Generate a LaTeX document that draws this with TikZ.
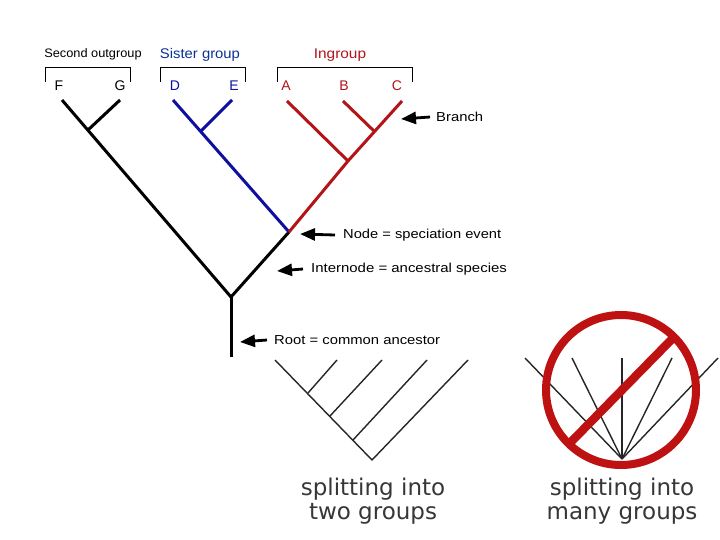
\documentclass[tikz,border=0pt]{standalone}
\usepackage{fontspec}
\usepackage{graphicx}
\setmainfont{Liberation Sans}
\newfontfamily\bigsans{DejaVu Sans}
\usetikzlibrary{arrows.meta}
\definecolor{tblue}{RGB}{15,15,160}
\definecolor{lblue}{RGB}{10,50,150}
\definecolor{tred}{RGB}{178,20,24}
\definecolor{nored}{RGB}{190,18,18}
\definecolor{txtgray}{RGB}{55,55,55}
\newcommand{\wide}[2]{\scalebox{#1}[1]{#2}}
\tikzset{
  brline/.style={line width=3pt},
  brk/.style={line width=1pt},
  grplbl/.style={inner sep=0pt, font=\fontsize{14}{16}\selectfont},
  taxon/.style={inner sep=0pt, font=\fontsize{14}{16}\selectfont},
  annot/.style={inner sep=0pt, anchor=west, font=\fontsize{13}{15}\selectfont},
  arr/.style={line width=2.8pt, -{Triangle[length=15pt,width=12pt]}},
  thinline/.style={line width=1.4pt, black!85},
  captext/.style={inner sep=0pt, align=center, text=txtgray, font=\bigsans\fontsize{23}{24}\selectfont}
}
\begin{document}
\begin{tikzpicture}[x=1pt,y=-1pt]
\useasboundingbox[fill=white] (0,0) rectangle (720,540);
% group labels
\node[grplbl, font=\fontsize{12.3}{14}\selectfont] (lso) at (93,54) {\wide{1.04}{Second outgroup}};
\node[grplbl, text=lblue] (lsi) at (200,55) {\wide{1.06}{Sister group}};
\node[grplbl, text=tred] (lin) at (340,55) {\wide{1.1}{Ingroup}};
% brackets
\draw[brk] (45,82) -- (45,68) -- (130,68) -- (130,82);
\draw[brk] (160,82) -- (160,68) -- (245,68) -- (245,82);
\draw[brk] (277,82) -- (277,68) -- (412,68) -- (412,82);
% taxon letters
\node[taxon] (tF) at (59,86) {F};
\node[taxon] (tG) at (120,86) {G};
\node[taxon, text=tblue] (tD) at (175,86) {D};
\node[taxon, text=tblue] (tE) at (234,86) {E};
\node[taxon, text=tred] (tA) at (286,86) {A};
\node[taxon, text=tred] (tB) at (344,86) {B};
\node[taxon, text=tred] (tC) at (397,86) {C};
% tree coordinates
\coordinate (F) at (62,100);
\coordinate (G) at (120,100);
\coordinate (FG) at (88,130);
\coordinate (D) at (173,100);
\coordinate (E) at (232,100);
\coordinate (DE) at (201,131);
\coordinate (A) at (287,101);
\coordinate (B) at (343,101);
\coordinate (C) at (402,101);
\coordinate (BC) at (375,132);
\coordinate (ABC) at (348,161);
\coordinate (N) at (289,232);
\coordinate (R) at (231,297);
\coordinate (Rb) at (231,357);
% tree
\draw[brline] (F) -- (R);
\draw[brline] (G) -- (FG);
\draw[brline] (R) -- (Rb);
\draw[brline] (R) -- (N);
\draw[brline, tblue] (D) -- (N);
\draw[brline, tblue] (E) -- (DE);
\draw[brline, tred] (A) -- (ABC);
\draw[brline, tred] (C) -- (ABC) -- (N);
\draw[brline, tred] (B) -- (BC);
% annotations
\node[annot] (nbr) at (436,117) {\wide{1.14}{Branch}};
\coordinate (pbr) at (401,119);
\draw[arr] ([xshift=-6pt]nbr.west) -- (pbr);
\node[annot] (nnode) at (343,235) {\wide{1.13}{Node = speciation event}};
\coordinate (pnode) at (300,234);
\draw[arr] ([xshift=-8pt]nnode.west) -- (pnode);
\node[annot] (nint) at (311,269) {\wide{1.15}{Internode = ancestral species}};
\coordinate (pint) at (277,271);
\draw[arr] ([xshift=-8pt]nint.west) -- (pint);
\node[annot] (nroot) at (274,340) {\wide{1.14}{Root = common ancestor}};
\coordinate (proot) at (240,342);
\draw[arr] ([xshift=-7pt]nroot.west) -- (proot);
% dichotomous example
\coordinate (b0) at (372,460);
\coordinate (bl) at (275,360);
\coordinate (bR) at (468,360);
\coordinate (j1) at (308,393);
\coordinate (j2) at (330,416);
\coordinate (j3) at (353,440);
\coordinate (t1) at (337,360);
\coordinate (t2) at (382,360);
\coordinate (t3) at (427,360);
\draw[thinline] (bl) -- (b0) -- (bR);
\draw[thinline] (j1) -- (t1);
\draw[thinline] (j2) -- (t2);
\draw[thinline] (j3) -- (t3);
\node[captext] (cap1) at (373,501) {splitting into\\two groups};
% polytomy example
\coordinate (m0) at (622,459);
\coordinate (m1) at (525,358);
\coordinate (m2) at (572,358);
\coordinate (m3) at (622,358);
\coordinate (m4) at (672,358);
\coordinate (m5) at (718,358);
\foreach \m in {m1,m2,m3,m4,m5} \draw[thinline] (m0) -- (\m);
\coordinate (cc) at (621,390);
\draw[nored, line width=8pt] (cc) circle[radius=75];
\coordinate (s1) at (570,443);
\coordinate (s2) at (673,338);
\draw[nored, line width=8.5pt] (s1) -- (s2);
\node[captext] (cap2) at (622,501) {splitting into\\many groups};
\end{tikzpicture}
\end{document}
